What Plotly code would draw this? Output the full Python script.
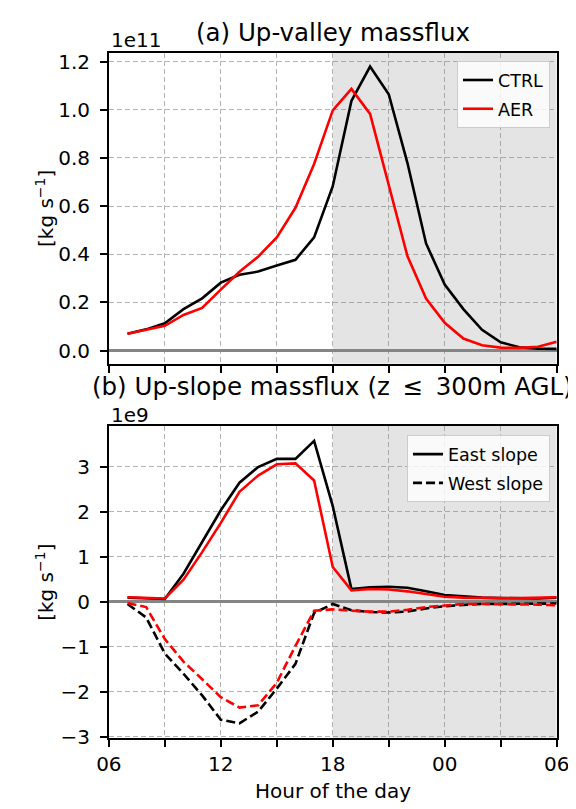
import plotly.graph_objects as go

# ---------------- data ----------------
hours = [7, 8, 9, 10, 11, 12, 13, 14, 15, 16, 17, 18,
         19, 20, 21, 22, 23, 24, 25, 26, 27, 28, 29, 30]

# (a) up-valley mass flux, units of 1e11 kg s^-1
valley_ctrl = [0.070, 0.088, 0.113, 0.172, 0.217, 0.282, 0.315, 0.328, 0.353, 0.377, 0.470, 0.683,
               1.037, 1.180, 1.065, 0.780, 0.445, 0.274, 0.172, 0.086, 0.034, 0.014, 0.008, 0.007]
valley_aer = [0.070, 0.085, 0.103, 0.148, 0.177, 0.253, 0.327, 0.390, 0.470, 0.593, 0.775, 0.998,
              1.087, 0.983, 0.690, 0.393, 0.216, 0.115, 0.050, 0.022, 0.012, 0.011, 0.016, 0.037]

# (b) up-slope mass flux, units of 1e9 kg s^-1
east_ctrl = [0.09, 0.08, 0.06, 0.62, 1.32, 2.03, 2.64, 2.99, 3.17, 3.17, 3.57, 2.12,
             0.28, 0.32, 0.33, 0.31, 0.23, 0.15, 0.12, 0.09, 0.08, 0.08, 0.07, 0.09]
east_aer = [0.10, 0.09, 0.07, 0.49, 1.10, 1.75, 2.44, 2.80, 3.05, 3.07, 2.69, 0.77,
            0.25, 0.28, 0.27, 0.23, 0.17, 0.11, 0.09, 0.08, 0.08, 0.08, 0.09, 0.10]
west_ctrl = [-0.05, -0.35, -1.15, -1.60, -2.08, -2.62, -2.70, -2.44, -1.93, -1.38, -0.25, -0.05,
             -0.19, -0.23, -0.24, -0.22, -0.15, -0.10, -0.07, -0.05, -0.05, -0.05, -0.045, -0.04]
west_aer = [-0.03, -0.12, -0.83, -1.33, -1.72, -2.12, -2.35, -2.30, -1.80, -0.98, -0.20, -0.17,
            -0.20, -0.22, -0.22, -0.18, -0.12, -0.08, -0.05, -0.05, -0.05, -0.05, -0.065, -0.08]

x_tickvals = [6, 12, 18, 24, 30]
x_ticktext = ["06", "12", "18", "00", "06"]
x_minor_tickvals = [9, 15, 21, 27]
valley_ticks = [0.0, 0.2, 0.4, 0.6, 0.8, 1.0, 1.2]
slope_ticks = [-3, -2, -1, 0, 1, 2, 3]
night_start, night_end = 18, 30

# ---------------- figure ----------------
W, H = 576, 809
FONT = "DejaVu Sans"
LW = 2.6
DASH = "9px,4px"

fig = go.Figure()

fig.add_trace(go.Scatter(x=hours, y=valley_ctrl, mode="lines", name="CTRL", legendgroup="a1",
                         line=dict(color="black", width=LW), xaxis="x", yaxis="y", legend="legend"))
fig.add_trace(go.Scatter(x=hours, y=valley_aer, mode="lines", name="AER", legendgroup="a2",
                         line=dict(color="red", width=LW), xaxis="x", yaxis="y", legend="legend"))

fig.add_trace(go.Scatter(x=hours, y=east_ctrl, mode="lines", name="East slope", legendgroup="b1",
                         line=dict(color="black", width=LW), xaxis="x2", yaxis="y2", legend="legend2"))
fig.add_trace(go.Scatter(x=hours, y=west_ctrl, mode="lines", name="West slope", legendgroup="b2",
                         line=dict(color="black", width=LW, dash=DASH), xaxis="x2", yaxis="y2",
                         legend="legend2"))
fig.add_trace(go.Scatter(x=hours, y=east_aer, mode="lines", showlegend=False,
                         line=dict(color="red", width=LW), xaxis="x2", yaxis="y2"))
fig.add_trace(go.Scatter(x=hours, y=west_aer, mode="lines", showlegend=False,
                         line=dict(color="red", width=LW, dash=DASH), xaxis="x2", yaxis="y2"))

xdom = [92 / W, 561 / W]
top_dom = [1 - 359 / H, 1 - 42.3 / H]
bot_dom = [1 - 740 / H, 1 - 422.3 / H]

GRIDC = "rgba(128,128,128,0.6)"
grid = dict(showgrid=True, gridcolor=GRIDC, gridwidth=1, griddash="5px,3px")
axis_common = dict(showline=True, mirror=True, linecolor="black", linewidth=1.5,
                   ticks="outside", ticklen=7, tickwidth=1.5, tickcolor="black",
                   tickfont=dict(family=FONT, size=20, color="black"), **grid)
x_minor = dict(tickmode="array", tickvals=x_minor_tickvals, ticks="outside", ticklen=7,
               tickwidth=1.5, tickcolor="black", showgrid=True, gridcolor=GRIDC,
               gridwidth=1, griddash="5px,3px")

legend_style = dict(xanchor="right", yanchor="top", bgcolor="rgba(255,255,255,0.8)",
                    bordercolor="#cccccc", borderwidth=1, tracegroupgap=3,
                    font=dict(family=FONT, size=17.5, color="black"))

fig.update_layout(
    width=W, height=H,
    margin=dict(l=0, r=0, t=0, b=0),
    paper_bgcolor="white", plot_bgcolor="white",
    font=dict(family=FONT, color="black"),
    xaxis=dict(domain=xdom, anchor="y", range=[6, 30], tickmode="array",
               tickvals=x_tickvals, ticktext=x_ticktext, showticklabels=False,
               minor=x_minor, **axis_common),
    yaxis=dict(domain=top_dom, anchor="x", range=[-0.055, 1.238], tickmode="array",
               tickvals=valley_ticks, tickformat=".1f", ticklabelstandoff=6,
               zeroline=True, zerolinecolor="#858585", zerolinewidth=2.5, **axis_common),
    xaxis2=dict(domain=xdom, anchor="y2", range=[6, 30], tickmode="array",
                tickvals=x_tickvals, ticktext=x_ticktext, minor=x_minor, **axis_common),
    yaxis2=dict(domain=bot_dom, anchor="x2", range=[-3.03, 3.9], tickmode="array",
                tickvals=slope_ticks, ticklabelstandoff=6,
                zeroline=True, zerolinecolor="#858585", zerolinewidth=2.5, **axis_common),
    legend=dict(x=554 / W, y=1 - 51 / H, **legend_style),
    legend2=dict(x=554 / W, y=1 - 431.7 / H, **legend_style),
)

for xr, yr in (("x", "y"), ("x2", "y2")):
    fig.add_shape(type="rect", xref=xr, yref=f"{yr} domain", x0=night_start, x1=night_end,
                  y0=0, y1=1, fillcolor="#e4e4e4", line=dict(width=0), layer="below")

xc = (92 + 561) / 2 / W
ann = [
    dict(text="(a) Up-valley massflux", x=xc, y=1 - 22 / H, font=dict(size=24.5)),
    dict(text="(b) Up-slope massflux (z \u2009≤\u2009 300m AGL)", x=xc, y=1 - 382 / H,
         font=dict(size=24.5)),
    dict(text="1e11", x=92 / W, y=1 - 30 / H, xanchor="left", font=dict(size=20)),
    dict(text="1e9", x=92 / W, y=1 - 411 / H, xanchor="left", font=dict(size=20)),
    dict(text="Hour of the day", x=xc, y=1 - 794 / H, font=dict(size=20)),
    dict(text="[kg s<sup>−1</sup>]", x=25 / W, y=1 - 200.6 / H, textangle=-90, font=dict(size=20)),
    dict(text="[kg s<sup>−1</sup>]", x=25 / W, y=1 - 581 / H, textangle=-90, font=dict(size=20)),
]
for a in ann:
    base = dict(xref="paper", yref="paper", showarrow=False, xanchor="center", yanchor="middle")
    base.update(a)
    base["font"] = dict(family=FONT, color="black", **a["font"])
    fig.add_annotation(**base)

fig.write_html("out.html")
